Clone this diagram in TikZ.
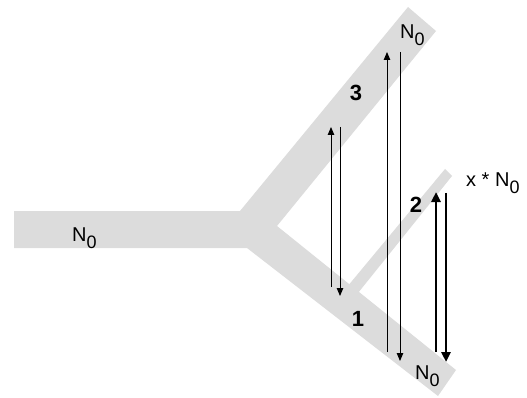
\documentclass[tikz,border=0pt]{standalone}
\usepackage{fontspec}
\setmainfont{Liberation Sans}
\usetikzlibrary{arrows.meta}
\definecolor{branch}{RGB}{220,220,220}
\newcommand{\Nzero}{N\raisebox{-7pt}{\fontsize{18}{20}\selectfont 0}}
\tikzset{
  lbl/.style={font=\fontsize{20}{22}\selectfont, inner sep=0pt, anchor=base west},
  num/.style={font=\fontsize{22}{24}\selectfont\bfseries, inner sep=0pt},
  thinarrow/.style={line width=0.9pt, -{Triangle[width=6.5pt,length=8pt]}},
  thickarrow/.style={line width=2.6pt, -{Triangle[width=9pt,length=10pt]}},
}
\begin{document}
\begin{tikzpicture}[x=1pt,y=-1pt]
\useasboundingbox (0,0) rectangle (527,398);
% Y-shaped channel
\fill[branch] (14,211) -- (240,211) -- (408,7) -- (436,31) -- (277,226)
  -- (456,370) -- (438,396) -- (247,248) -- (14,248) -- cycle;
% thin side branch 2
\fill[branch] (347,287) -- (445,169) -- (452,176) -- (358,293) -- cycle;
% labels
\node[lbl] (nleft) at (72,241) {\Nzero};
\node[lbl] (ntop) at (400,39) {\Nzero};
\node[lbl] (nbot) at (415,379) {\Nzero};
\node[lbl] (nx) at (466,186) {x * \Nzero};
\node[num] (l3) at (356,93) {3};
\node[num] (l2) at (416,205) {2};
\node[num] (l1) at (358,319) {1};
% arrow end points
\coordinate (a1s) at (331,287); \coordinate (a1e) at (331,127);
\coordinate (a2s) at (340,127); \coordinate (a2e) at (340,296);
\coordinate (b1s) at (387,352); \coordinate (b1e) at (387,52);
\coordinate (b2s) at (400,52);  \coordinate (b2e) at (400,361);
\coordinate (c1s) at (436,352); \coordinate (c1e) at (436,192);
\coordinate (c2s) at (446,193); \coordinate (c2e) at (446,362);
\draw[thinarrow] (a1s) -- (a1e);
\draw[thinarrow] (a2s) -- (a2e);
\draw[thinarrow] (b1s) -- (b1e);
\draw[thinarrow] (b2s) -- (b2e);
\draw[thickarrow] (c1s) -- (c1e);
\draw[thickarrow] (c2s) -- (c2e);
\end{tikzpicture}
\end{document}
